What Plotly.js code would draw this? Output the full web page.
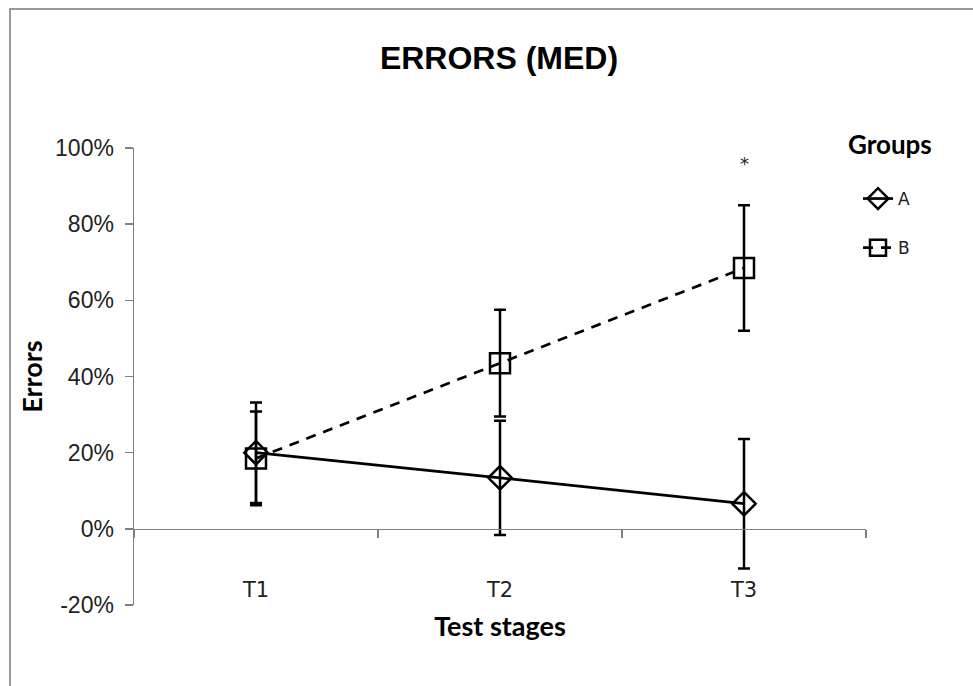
<!DOCTYPE html>
<html>
<head>
<meta charset="utf-8">
<script src="https://cdn.plot.ly/plotly-3.0.1.min.js"></script>
<style>html,body{margin:0;padding:0;background:#fff;}#chart{width:973px;height:686px;}</style>
</head>
<body>
<div id="chart"></div>
<script>
// ---- data ----
var categories = ['T1', 'T2', 'T3'];
var groupNames = ['A', 'B'];
var valuesA = [20, 13.4, 6.6];
var errorsA = [13.2, 15, 17];
var valuesB = [18.5, 43.5, 68.5];
var errorsB = [12.3, 14, 16.5];
var yTicks = [-20, 0, 20, 40, 60, 80, 100];
var yTickText = ['-20%', '0%', '20%', '40%', '60%', '80%', '100%'];
var boundaryTicks = [-0.5, 0.5, 1.5, 2.5];
var significance = {category: 2, y: 96, text: '*'};
var legendTitle = 'Groups';

var xIdx = categories.map(function (c, i) { return i; });

var traces = [
  {
    x: xIdx, y: valuesA, name: groupNames[0], type: 'scatter', mode: 'lines+markers',
    legendgroup: 'a',
    line: {color: '#000', width: 2.7},
    marker: {symbol: 'diamond-open', size: 18, color: '#000', line: {width: 2.5, color: '#000'}},
    error_y: {type: 'data', array: errorsA, visible: true, color: '#000', thickness: 2.5, width: 6}
  },
  {
    x: xIdx, y: valuesB, name: groupNames[1], type: 'scatter', mode: 'lines+markers',
    legendgroup: 'b',
    line: {color: '#000', width: 2.7, dash: '10px,8px'},
    marker: {symbol: 'square-open', size: 20, color: '#000', line: {width: 2.5, color: '#000'}},
    error_y: {type: 'data', array: errorsB, visible: true, color: '#000', thickness: 2.5, width: 6}
  },
  {
    // invisible carrier so the zero-level category axis (x2) is drawn
    x: xIdx, y: valuesA, xaxis: 'x2', yaxis: 'y', type: 'scatter', mode: 'markers',
    marker: {opacity: 0}, showlegend: false, hoverinfo: 'skip'
  }
];

var L = 134, R = 107, T = 148, B = 81;
var plotH = 686 - T - B;
var plotW = 973 - L - R;

var layout = {
  width: 973, height: 686,
  margin: {l: L, r: R, t: T, b: B, pad: 0},
  paper_bgcolor: '#fff', plot_bgcolor: 'rgba(0,0,0,0)',
  showlegend: true,
  title: {
    text: 'ERRORS (MED)',
    font: {family: 'Liberation Sans, Arial, sans-serif', size: 32, color: '#000', weight: 'bold'},
    x: 499 / 973, xanchor: 'center', xref: 'container',
    y: 1 - 58 / 686, yanchor: 'middle', yref: 'container'
  },
  xaxis: {
    range: [-0.5, 2.5],
    tickmode: 'array', tickvals: xIdx, ticktext: categories,
    showline: false, ticks: '', showgrid: false, zeroline: false,
    anchor: 'free', position: 0.066,
    tickfont: {family: 'DejaVu Sans, sans-serif', size: 21, color: '#222'},
    title: {text: 'Test stages', standoff: 16,
      font: {family: 'Lato, sans-serif', size: 27, color: '#000', weight: 'bold'}}
  },
  xaxis2: {
    range: [-0.5, 2.5], overlaying: 'x', anchor: 'free', position: 20 / 120,
    tickmode: 'array', tickvals: boundaryTicks, showticklabels: false,
    showline: true, linecolor: '#808080', linewidth: 1.5,
    ticks: 'outside', ticklen: 8, tickcolor: '#808080', tickwidth: 1.5,
    showgrid: false, zeroline: false
  },
  yaxis: {
    range: [-20, 100],
    tickmode: 'array', tickvals: yTicks, ticktext: yTickText,
    showline: true, linecolor: '#808080', linewidth: 1.5,
    ticks: 'outside', ticklen: 8, tickcolor: '#808080', tickwidth: 1.5,
    showgrid: false, zeroline: false,
    ticklabelstandoff: 6,
    tickfont: {family: 'Liberation Sans, Arial, sans-serif', size: 23, color: '#222'},
    title: {text: 'Errors', standoff: 4,
      font: {family: 'Lato, sans-serif', size: 27, color: '#000', weight: 'bold'}}
  },
  legend: {
    x: (858 - L) / plotW, xanchor: 'left',
    y: (605 - 181) / plotH, yanchor: 'top',
    traceorder: 'grouped', tracegroupgap: 24,
    bgcolor: 'rgba(0,0,0,0)',
    font: {family: 'DejaVu Sans, sans-serif', size: 17, color: '#222'}
  },
  annotations: [{
    x: significance.category, y: significance.y, xref: 'x', yref: 'y',
    text: significance.text, showarrow: false,
    font: {family: 'DejaVu Sans, sans-serif', size: 18, color: '#222'}
  }, {
    x: (890 - L) / plotW, y: (605 - 144) / plotH, xref: 'paper', yref: 'paper',
    xanchor: 'center', yanchor: 'middle',
    text: legendTitle, showarrow: false,
    font: {family: 'Lato, sans-serif', size: 26, color: '#000', weight: 'bold'}
  }],
  shapes: [{
    type: 'rect', xref: 'paper', yref: 'paper',
    x0: (10 - L) / plotW, x1: (990 - L) / plotW,
    y0: (605 - 700) / plotH, y1: (605 - 9) / plotH,
    line: {color: '#7a7a7a', width: 1.5}, fillcolor: 'rgba(0,0,0,0)', layer: 'below'
  }]
};

Plotly.newPlot('chart', traces, layout, {displayModeBar: false, staticPlot: true});
</script>
</body>
</html>
